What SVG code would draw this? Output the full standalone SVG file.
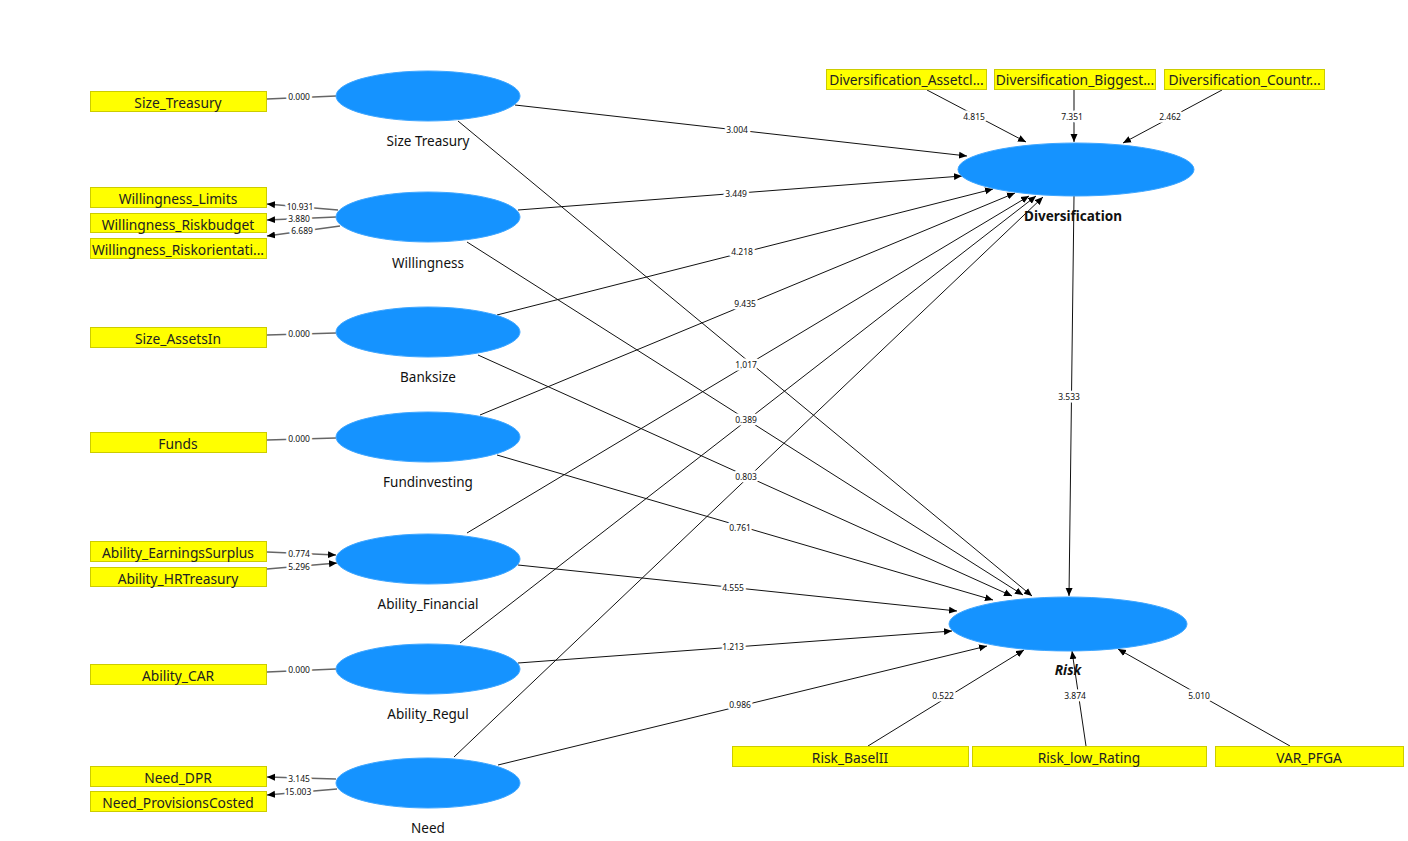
<svg xmlns="http://www.w3.org/2000/svg" width="1408" height="841" viewBox="0 0 1408 841">
<style>
.lv{fill:#1593ff;stroke:#3ea6ff;stroke-width:1}
.ind rect{fill:#ffff00;stroke:#cccc00;stroke-width:1}
.ind text{font-family:"Noto Sans","Open Sans",sans-serif;font-size:13.8px;fill:#222;text-anchor:middle}
.nm{font-family:"Noto Sans","Open Sans",sans-serif;font-size:13.5px;fill:#111;text-anchor:middle}
.nb{font-weight:bold}
.c{stroke:#111;stroke-width:1;fill:none}
.g{stroke:#666;stroke-width:1.6;fill:none}
.v{font-family:"Noto Sans","Liberation Sans",sans-serif;font-size:8.5px;fill:#111;text-anchor:middle;stroke:#fff;stroke-width:5;paint-order:stroke;stroke-linejoin:round}
</style>
<defs>
<marker id="a" markerUnits="userSpaceOnUse" markerWidth="8" markerHeight="8" refX="8" refY="4" orient="auto"><path d="M0,0.5 L8,4 L0,7.5 Z" fill="#000"/></marker>
</defs>
<rect width="1408" height="841" fill="#fff"/>
<g id="connectors">
<line class="g" x1="267" y1="99" x2="336" y2="96"/>
<line class="g" x1="338" y1="210" x2="267" y2="204" marker-end="url(#a)"/>
<line class="g" x1="336" y1="217" x2="267" y2="220" marker-end="url(#a)"/>
<line class="g" x1="340" y1="226" x2="267" y2="236" marker-end="url(#a)"/>
<line class="g" x1="267" y1="335" x2="336" y2="333"/>
<line class="g" x1="267" y1="440" x2="336" y2="438"/>
<line class="g" x1="267" y1="552" x2="336" y2="555" marker-end="url(#a)"/>
<line class="g" x1="267" y1="569" x2="337" y2="563" marker-end="url(#a)"/>
<line class="g" x1="267" y1="672" x2="336" y2="669"/>
<line class="g" x1="336" y1="779" x2="267" y2="777" marker-end="url(#a)"/>
<line class="g" x1="337" y1="789" x2="267" y2="795" marker-end="url(#a)"/>
<line class="c" x1="927" y1="90" x2="1026" y2="142" marker-end="url(#a)"/>
<line class="g" x1="1074" y1="90" x2="1074" y2="142" marker-end="url(#a)"/>
<line class="c" x1="1222" y1="90" x2="1123" y2="143" marker-end="url(#a)"/>
<line class="c" x1="868" y1="746" x2="1024" y2="650" marker-end="url(#a)"/>
<line class="c" x1="1086" y1="746" x2="1072" y2="651" marker-end="url(#a)"/>
<line class="c" x1="1290" y1="746" x2="1118" y2="649" marker-end="url(#a)"/>
<line class="c" x1="515" y1="105" x2="967" y2="156" marker-end="url(#a)"/>
<line class="c" x1="518" y1="210" x2="962" y2="176" marker-end="url(#a)"/>
<line class="c" x1="497" y1="315" x2="993" y2="189" marker-end="url(#a)"/>
<line class="c" x1="480" y1="415" x2="1015" y2="193" marker-end="url(#a)"/>
<line class="c" x1="467" y1="533" x2="1029" y2="196" marker-end="url(#a)"/>
<line class="c" x1="460" y1="643" x2="1036" y2="196" marker-end="url(#a)"/>
<line class="c" x1="454" y1="757" x2="1043" y2="197" marker-end="url(#a)"/>
<line class="c" x1="458" y1="121" x2="1032" y2="596" marker-end="url(#a)"/>
<line class="c" x1="467" y1="242" x2="1023" y2="595" marker-end="url(#a)"/>
<line class="c" x1="478" y1="355" x2="1012" y2="596" marker-end="url(#a)"/>
<line class="c" x1="497" y1="455" x2="993" y2="600" marker-end="url(#a)"/>
<line class="c" x1="518" y1="565" x2="957" y2="611" marker-end="url(#a)"/>
<line class="c" x1="518" y1="663" x2="952" y2="631" marker-end="url(#a)"/>
<line class="c" x1="498" y1="765" x2="987" y2="646" marker-end="url(#a)"/>
<line class="c" x1="1074" y1="196" x2="1069" y2="596" marker-end="url(#a)"/>
<text class="v" x="299" y="100">0.000</text>
<text class="v" x="300" y="210">10.931</text>
<text class="v" x="299" y="222">3.880</text>
<text class="v" x="302" y="234">6.689</text>
<text class="v" x="299" y="337">0.000</text>
<text class="v" x="299" y="442">0.000</text>
<text class="v" x="299" y="557">0.774</text>
<text class="v" x="299" y="570">5.296</text>
<text class="v" x="299" y="673">0.000</text>
<text class="v" x="299" y="782">3.145</text>
<text class="v" x="298" y="795">15.003</text>
<text class="v" x="974" y="120">4.815</text>
<text class="v" x="1072" y="120">7.351</text>
<text class="v" x="1170" y="120">2.462</text>
<text class="v" x="943" y="699">0.522</text>
<text class="v" x="1075" y="699">3.874</text>
<text class="v" x="1199" y="699">5.010</text>
<text class="v" x="737" y="133">3.004</text>
<text class="v" x="736" y="197">3.449</text>
<text class="v" x="742" y="255">4.218</text>
<text class="v" x="745" y="307">9.435</text>
<text class="v" x="746" y="368">1.017</text>
<text class="v" x="746" y="423">0.389</text>
<text class="v" x="746" y="480">0.803</text>
<text class="v" x="740" y="531">0.761</text>
<text class="v" x="733" y="591">4.555</text>
<text class="v" x="733" y="650">1.213</text>
<text class="v" x="740" y="708">0.986</text>
<text class="v" x="1069" y="400">3.533</text>
</g>
<g id="n-size-treasury"><ellipse class="lv" cx="428" cy="96" rx="92" ry="25"/><text class="nm" x="428" y="146">Size Treasury</text></g>
<g id="n-willingness"><ellipse class="lv" cx="428" cy="217" rx="92" ry="25"/><text class="nm" x="428" y="268">Willingness</text></g>
<g id="n-banksize"><ellipse class="lv" cx="428" cy="332" rx="92" ry="25"/><text class="nm" x="428" y="382">Banksize</text></g>
<g id="n-fundinvesting"><ellipse class="lv" cx="428" cy="437" rx="92" ry="25"/><text class="nm" x="428" y="487">Fundinvesting</text></g>
<g id="n-ability-financial"><ellipse class="lv" cx="428" cy="559" rx="92" ry="25"/><text class="nm" x="428" y="609">Ability_Financial</text></g>
<g id="n-ability-regul"><ellipse class="lv" cx="428" cy="669" rx="92" ry="25"/><text class="nm" x="428" y="719">Ability_Regul</text></g>
<g id="n-need"><ellipse class="lv" cx="428" cy="783" rx="92" ry="25"/><text class="nm" x="428" y="833">Need</text></g>
<g id="n-diversification"><ellipse class="lv" cx="1076" cy="169.5" rx="118" ry="26.5"/><text class="nm nb" x="1073" y="221">Diversification</text></g>
<g id="n-risk"><ellipse class="lv" cx="1068" cy="624" rx="119" ry="27"/><text class="nm nb" x="1068" y="675" font-style="italic">Risk</text></g>
<g id="i-size-treasury" class="ind"><rect x="90.5" y="91.5" width="176" height="20"/><text x="178" y="108">Size_Treasury</text></g>
<g id="i-will-limits" class="ind"><rect x="90.5" y="187.5" width="176" height="20"/><text x="178" y="204">Willingness_Limits</text></g>
<g id="i-will-riskbudget" class="ind"><rect x="90.5" y="213.5" width="176" height="19"/><text x="178" y="230">Willingness_Riskbudget</text></g>
<g id="i-will-riskorient" class="ind"><rect x="90.5" y="238.5" width="176" height="20"/><text x="178" y="255">Willingness_Riskorientati...</text></g>
<g id="i-size-assets" class="ind"><rect x="90.5" y="327.5" width="176" height="20"/><text x="178" y="344">Size_AssetsIn</text></g>
<g id="i-funds" class="ind"><rect x="90.5" y="432.5" width="176" height="20"/><text x="178" y="449">Funds</text></g>
<g id="i-earnings" class="ind"><rect x="90.5" y="541.5" width="176" height="20"/><text x="178" y="558">Ability_EarningsSurplus</text></g>
<g id="i-hrtreasury" class="ind"><rect x="90.5" y="567.5" width="176" height="19"/><text x="178" y="584">Ability_HRTreasury</text></g>
<g id="i-car" class="ind"><rect x="90.5" y="664.5" width="176" height="20"/><text x="178" y="681">Ability_CAR</text></g>
<g id="i-need-dpr" class="ind"><rect x="90.5" y="766.5" width="176" height="20"/><text x="178" y="783">Need_DPR</text></g>
<g id="i-need-prov" class="ind"><rect x="90.5" y="791.5" width="176" height="20"/><text x="178" y="808">Need_ProvisionsCosted</text></g>
<g id="i-div-asset" class="ind"><rect x="826.5" y="69.5" width="160" height="20"/><text x="906.5" y="85">Diversification_Assetcl...</text></g>
<g id="i-div-biggest" class="ind"><rect x="994.5" y="69.5" width="161" height="20"/><text x="1075" y="85">Diversification_Biggest...</text></g>
<g id="i-div-countr" class="ind"><rect x="1164.5" y="69.5" width="160" height="20"/><text x="1244.5" y="85">Diversification_Countr...</text></g>
<g id="i-risk-basel" class="ind"><rect x="732.5" y="746.5" width="236" height="20"/><text x="850" y="763">Risk_BaselII</text></g>
<g id="i-risk-rating" class="ind"><rect x="972.5" y="746.5" width="234" height="20"/><text x="1089" y="763">Risk_low_Rating</text></g>
<g id="i-var" class="ind"><rect x="1215.5" y="746.5" width="188" height="20"/><text x="1309" y="763">VAR_PFGA</text></g>
</svg>
